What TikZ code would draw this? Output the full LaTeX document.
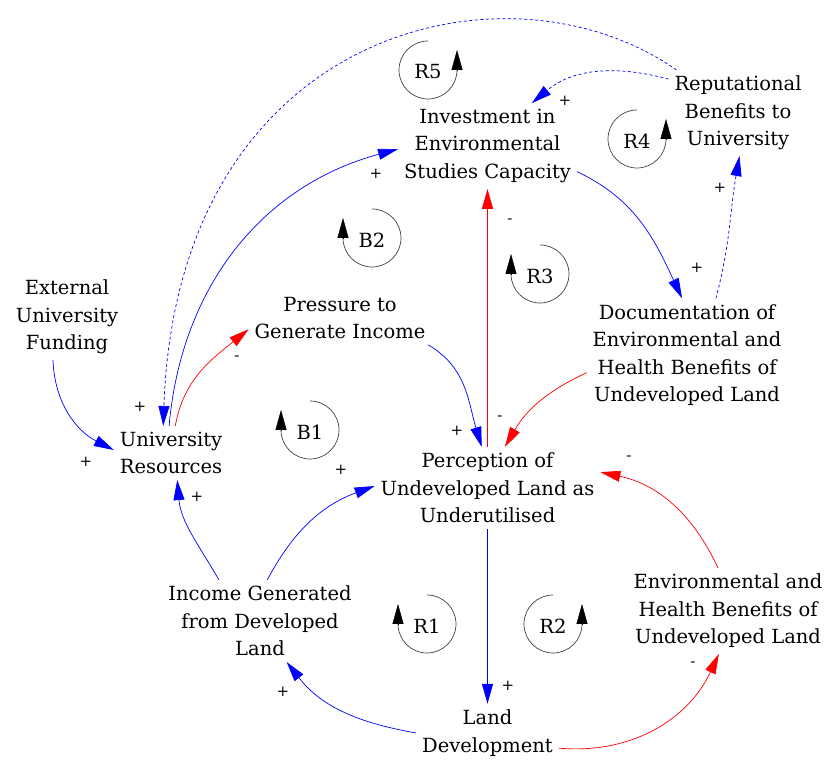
\documentclass[tikz,border=0pt]{standalone}
\usepackage{fontspec}
\setmainfont{DejaVu Serif}
\usetikzlibrary{arrows.meta}

\begin{document}
\begin{tikzpicture}[x=1pt,y=1pt,
    var/.style={
% The text:
align=center, font=\fontsize{19.5}{27.5}\selectfont,
% The spacing:
inner sep=2pt, outer sep=4pt,
},
    sign/.style={font=\fontsize{15}{15}\selectfont, inner sep=0pt},
    looplabel/.style={font=\fontsize{19.5}{27.5}\selectfont, inner sep=0pt},
    loopcirc/.style={black!75, line width=0.7pt},
    loophead/.style={black, -{Triangle[length=20pt,width=11pt]}},
    poslink/.style={blue, line width=0.7pt, -{Triangle[length=20pt,width=11pt]}},
    neglink/.style={red, line width=0.7pt, -{Triangle[length=20pt,width=11pt]}},
    dotlink/.style={dash pattern=on 3pt off 2.5pt},
]
  \useasboundingbox (0,0) rectangle (830,760);

  % variables
  \node[var] (invest)   at (487.5,614) {Investment in\\Environmental\\Studies Capacity};
  \node[var] (reput)    at (738,647) {Reputational\\Benefits to\\University};
  \node[var] (extfund)  at (67,443)  {External\\University\\Funding};
  \node[var] (pressure) at (340,442) {Pressure to\\Generate Income};
  \node[var] (unires)   at (171,307) {University\\Resources};
  \node[var] (docu)     at (687,405) {Documentation of\\Environmental and\\Health Benefits of\\Undeveloped Land};
  \node[var] (percep)   at (487.5,272) {Perception of\\Undeveloped Land as\\Underutilised};
  \node[var] (income)   at (260,139) {Income Generated\\from Developed\\Land};
  \node[var] (envben)   at (728,149) {Environmental and\\Health Benefits of\\Undeveloped Land};
  \node[var] (landdev)  at (487.5,27)  {Land\\Development};

  % links
  \draw[poslink] (invest.-16) to[out=-25,in=115] (docu.95);
  \draw[poslink,dotlink] (docu.63) to[out=75,in=-100] (reput.-88);
  \draw[poslink,dotlink] (reput.154) to[out=165,in=40] (invest.44);
  \draw[poslink,dotlink] (reput.145) to[out=145,in=88,out distance=205pt,in distance=400pt] (unires.106);
  \draw[poslink] (unires.94) to[out=85,in=195] (invest.182);
  \draw[neglink] (unires.81) to[out=80,in=219] (pressure.187);
  \draw[poslink] (extfund.252) to[out=-88,in=153] (unires.177);
  \draw[poslink] (pressure.-17) to[out=-30,in=107] (percep.98);
  \draw[neglink,line width=1pt] (percep.north) -- (invest.south);
  \draw[neglink] (docu.190) to[out=205,in=60] (percep.67);
  \draw[neglink] (envben.103) to[out=115,in=-12] (percep.8);
  \draw[poslink,line width=1pt] (percep.south) -- (landdev.north);
  \draw[neglink] (landdev.-12) to[out=-5,in=-115] (envben.-102);
  \draw[poslink] (landdev.180) to[out=170,in=-52] (income.-57);
  \draw[poslink] (income.135) to[out=120,in=-85] (unires.-77);
  \draw[poslink] (income.80) to[out=62,in=200] (percep.179);

  % polarities
  \node[sign] (s1)  at (697,492) {+};
  \node[sign] (s2)  at (720,572) {+};
  \node[sign] (s3)  at (565,659) {+};
  \node[sign] (s4)  at (140,353) {+};
  \node[sign] (s5)  at (376,586) {+};
  \node[sign] (s6)  at (237,402) {-};
  \node[sign] (s7)  at (86,298)  {+};
  \node[sign] (s8)  at (457,329) {+};
  \node[sign] (s9)  at (510,539) {-};
  \node[sign] (s10) at (500,342) {-};
  \node[sign] (s11) at (629,302) {-};
  \node[sign] (s12) at (508,74)  {+};
  \node[sign] (s13) at (693,96)  {-};
  \node[sign] (s14) at (283,68)  {+};
  \node[sign] (s15) at (197,263) {+};
  \node[sign] (s16) at (341,290) {+};

  % loops
  \node[looplabel] (R5) at (428,688) {R5};
  \draw[loopcirc] (R5.center) ++(0,31) arc[start angle=90,end angle=360,radius=29pt];
  \draw[loophead] (R5.center) ++(29,2) -- ++(0,20);
  \node[looplabel] (R4) at (637,619) {R4};
  \draw[loopcirc] (R4.center) ++(0,31) arc[start angle=90,end angle=360,radius=29pt];
  \draw[loophead] (R4.center) ++(29,2) -- ++(0,20);
  \node[looplabel] (R2) at (553,134) {R2};
  \draw[loopcirc] (R2.center) ++(0,31) arc[start angle=90,end angle=360,radius=29pt];
  \draw[loophead] (R2.center) ++(29,2) -- ++(0,20);
  \node[looplabel] (B2) at (372,520) {B2};
  \draw[loopcirc] (B2.center) ++(0,31) arc[start angle=90,end angle=-180,radius=29pt];
  \draw[loophead] (B2.center) ++(-29,2) -- ++(0,20);
  \node[looplabel] (R3) at (540,484) {R3};
  \draw[loopcirc] (R3.center) ++(0,31) arc[start angle=90,end angle=-180,radius=29pt];
  \draw[loophead] (R3.center) ++(-29,2) -- ++(0,20);
  \node[looplabel] (B1) at (310,328) {B1};
  \draw[loopcirc] (B1.center) ++(0,31) arc[start angle=90,end angle=-180,radius=29pt];
  \draw[loophead] (B1.center) ++(-29,2) -- ++(0,20);
  \node[looplabel] (R1) at (427,134) {R1};
  \draw[loopcirc] (R1.center) ++(0,31) arc[start angle=90,end angle=-180,radius=29pt];
  \draw[loophead] (R1.center) ++(-29,2) -- ++(0,20);

\end{tikzpicture}
\end{document}
